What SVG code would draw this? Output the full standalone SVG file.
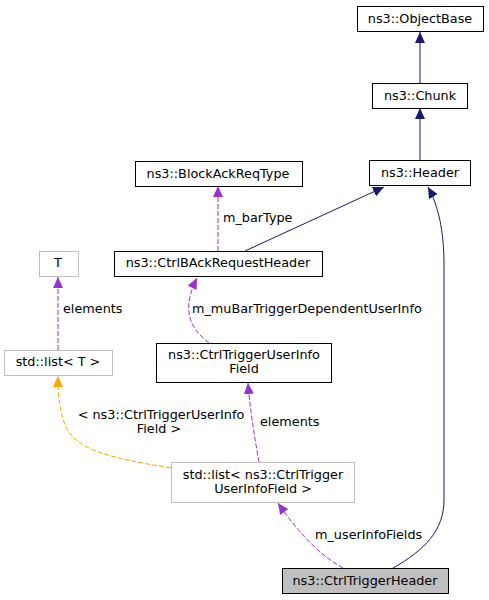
<svg xmlns="http://www.w3.org/2000/svg" width="489" height="600" viewBox="0 0 489 600">
<style>
text{font-family:"DejaVu Sans","Liberation Sans",sans-serif;font-size:12.8px;fill:#000}
.c{text-anchor:middle}
.n rect{fill:#fff;stroke:#000;stroke-width:1}
.n.g rect{stroke:#bfbfbf}
.n.h rect{fill:#bfbfbf}
.e{fill:none;stroke-width:1}
.nv{stroke:#191970}
.pu{stroke:#9a32cd;stroke-dasharray:5,2}
.or{stroke:#ffa500;stroke-dasharray:5,2}
</style>
<defs>
<marker id="mn" markerUnits="userSpaceOnUse" markerWidth="12" markerHeight="12" refX="11" refY="5" orient="auto"><path d="M0,0 L11,5 L0,10 Z" fill="#191970"/></marker>
<marker id="mp" markerUnits="userSpaceOnUse" markerWidth="12" markerHeight="12" refX="11" refY="5" orient="auto"><path d="M0,0 L11,5 L0,10 Z" fill="#9a32cd"/></marker>
<marker id="mo" markerUnits="userSpaceOnUse" markerWidth="12" markerHeight="12" refX="11" refY="5" orient="auto"><path d="M0,0 L11,5 L0,10 Z" fill="#ffa500"/></marker>
</defs>
<rect width="489" height="600" fill="#fff"/>
<g id="connectors">
<path class="e nv" d="M420,83 L420,32" marker-end="url(#mn)"/>
<path class="e nv" d="M420,160 L420,108" marker-end="url(#mn)"/>
<path class="e nv" d="M245,251 L384,187" marker-end="url(#mn)"/>
<path class="e nv" d="M393,568 C425,550 444,530 444,500 L444,265 C444,230 438,205 428,187" marker-end="url(#mn)"/>
<path class="e pu" d="M218,251 L218,186" marker-end="url(#mp)"/>
<path class="e pu" d="M209,343 C188,327 182,308 197,278" marker-end="url(#mp)"/>
<path class="e pu" d="M58,350 L58,277" marker-end="url(#mp)"/>
<path class="e or" d="M171,468 C110,458 75,450 65,425 C58,405 58,390 58,376" marker-end="url(#mo)"/>
<path class="e pu" d="M259,462 C255,440 250,410 248,383" marker-end="url(#mp)"/>
<path class="e pu" d="M343,568 C320,555 300,535 278,503" marker-end="url(#mp)"/>
<text x="223" y="222">m_barType</text>
<text x="192" y="313">m_muBarTriggerDependentUserInfo</text>
<text x="63" y="313">elements</text>
<text class="c" x="161" y="419">&lt; ns3::CtrlTriggerUserInfo</text>
<text class="c" x="159" y="433">Field &gt;</text>
<text x="260" y="426">elements</text>
<text x="315" y="539">m_userInfoFields</text>
</g>
<g id="ObjectBase" class="n"><rect x="357.5" y="6.5" width="126" height="25"/><text class="c" x="420" y="23">ns3::ObjectBase</text></g>
<g id="Chunk" class="n"><rect x="372.5" y="83.5" width="95" height="25"/><text class="c" x="420" y="100">ns3::Chunk</text></g>
<g id="Header" class="n"><rect x="369.5" y="160.5" width="101" height="25"/><text class="c" x="420" y="177">ns3::Header</text></g>
<g id="BlockAckReqType" class="n"><rect x="135.5" y="161.5" width="167" height="25"/><text class="c" x="218" y="178">ns3::BlockAckReqType</text></g>
<g id="CtrlBAckRequestHeader" class="n"><rect x="114.5" y="251.5" width="208" height="25"/><text class="c" x="218" y="267">ns3::CtrlBAckRequestHeader</text></g>
<g id="T" class="n g"><rect x="39.5" y="251.5" width="39" height="25"/><text class="c" x="58" y="267">T</text></g>
<g id="StdListT" class="n g"><rect x="4.5" y="350.5" width="108" height="25"/><text class="c" x="58" y="366">std::list&lt; T &gt;</text></g>
<g id="CtrlTriggerUserInfoField" class="n"><rect x="156.5" y="343.5" width="175" height="39"/><text class="c" x="244" y="359">ns3::CtrlTriggerUserInfo</text><text class="c" x="244" y="373">Field</text></g>
<g id="StdListField" class="n g"><rect x="171.5" y="462.5" width="183" height="40"/><text class="c" x="263" y="479">std::list&lt; ns3::CtrlTrigger</text><text class="c" x="263" y="493">UserInfoField &gt;</text></g>
<g id="CtrlTriggerHeader" class="n h"><rect x="282.5" y="568.5" width="166" height="25"/><text class="c" x="365" y="585">ns3::CtrlTriggerHeader</text></g>
</svg>
